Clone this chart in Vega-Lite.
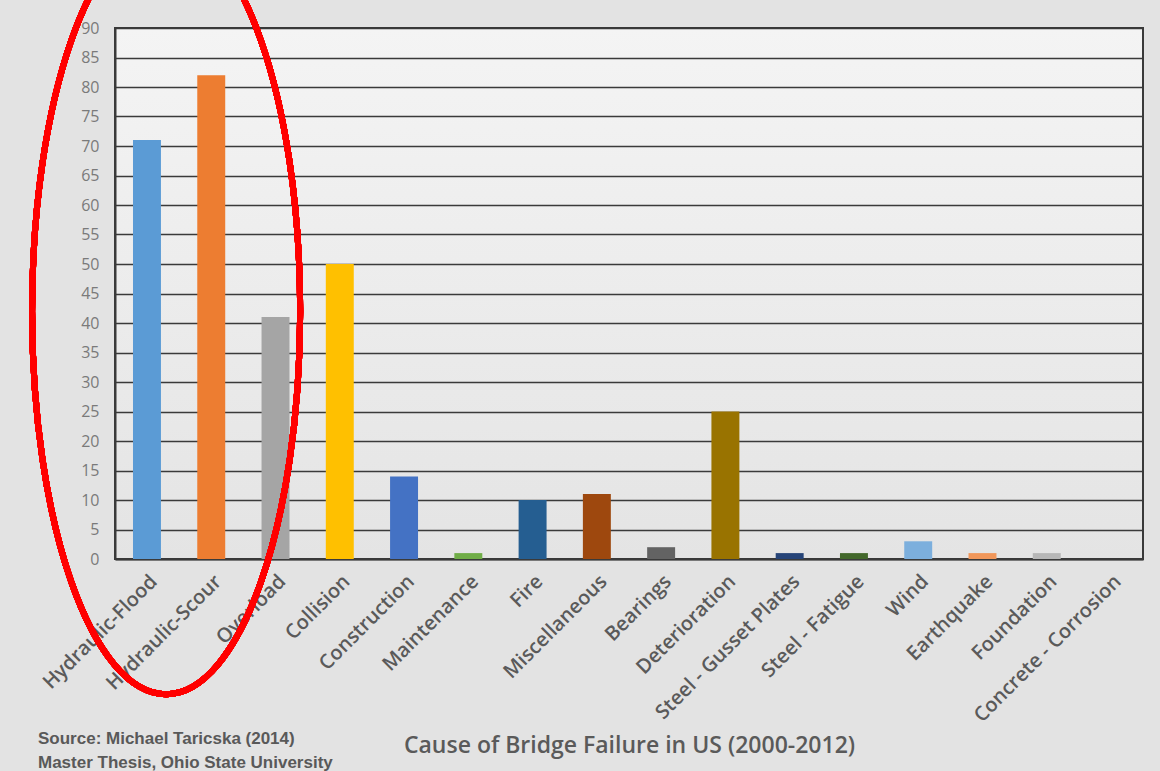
{
  "$schema": "https://vega.github.io/schema/vega-lite/v6.json",
  "autosize": {"type": "none"},
  "width": 1028,
  "height": 531,
  "padding": {"left": 115, "top": 28, "right": 17, "bottom": 212},
  "background": "#e3e3e3",
  "config": {
    "view": {
      "stroke": "#3a3a3a",
      "strokeWidth": 2,
      "fill": {"gradient": "linear", "x1": 0, "y1": 0, "x2": 0, "y2": 1, "stops": [{"offset": 0, "color": "#f4f4f4"}, {"offset": 1, "color": "#e4e4e4"}]}
    },
    "axisY": {
      "title": "Occurrences",
      "titleFont": "Open Sans",
      "titleFontSize": 17,
      "titleFontWeight": "bold",
      "titleColor": "#595959",
      "titlePadding": 14,
      "labelFont": "Open Sans",
      "labelFontSize": 16,
      "labelColor": "#7a7a7a",
      "labelPadding": 16,
      "labelOverlap": false,
      "ticks": false,
      "domainColor": "#3a3a3a",
      "domainWidth": 2,
      "gridColor": "#3a3a3a",
      "gridWidth": 1.6
    }
  },
  "title": {
    "text": ["Source: Michael Taricska (2014)", "Master Thesis, Ohio State University"],
    "orient": "bottom",
    "anchor": "start",
    "frame": "group",
    "dx": -77,
    "offset": -27,
    "font": "Liberation Sans",
    "fontSize": 17,
    "fontWeight": "bold",
    "color": "#595959",
    "lineHeight": 24
  },
  "data": {
    "values": [
      {"cause": "Hydraulic-Flood", "occurrences": 71},
      {"cause": "Hydraulic-Scour", "occurrences": 82},
      {"cause": "Overload", "occurrences": 41},
      {"cause": "Collision", "occurrences": 50},
      {"cause": "Construction", "occurrences": 14},
      {"cause": "Maintenance", "occurrences": 1},
      {"cause": "Fire", "occurrences": 10},
      {"cause": "Miscellaneous", "occurrences": 11},
      {"cause": "Bearings", "occurrences": 2},
      {"cause": "Deterioration", "occurrences": 25},
      {"cause": "Steel - Gusset Plates", "occurrences": 1},
      {"cause": "Steel - Fatigue", "occurrences": 1},
      {"cause": "Wind", "occurrences": 3},
      {"cause": "Earthquake", "occurrences": 1},
      {"cause": "Foundation", "occurrences": 1},
      {"cause": "Concrete - Corrosion", "occurrences": 0}
    ]
  },
  "layer": [
    {
      "mark": {"type": "bar"},
      "encoding": {
        "x": {
          "field": "cause",
          "type": "nominal",
          "sort": null,
          "scale": {"paddingInner": 0.565, "paddingOuter": 0.28},
          "axis": {
            "title": "Cause of Bridge Failure in US (2000-2012)",
            "titleFont": "Open Sans",
            "titleFontSize": 23,
            "titleFontWeight": 600,
            "titleColor": "#5a5a5a",
            "titlePadding": 9,
            "labelAngle": -45,
            "labelFont": "Open Sans",
            "labelFontSize": 20,
            "labelFontWeight": 600,
            "labelColor": "#5a5a5a",
            "labelPadding": 12,
            "labelLimit": 400,
            "labelOverlap": false,
            "ticks": false,
            "domainColor": "#3a3a3a",
            "domainWidth": 2
          }
        },
        "y": {
          "field": "occurrences",
          "type": "quantitative",
          "scale": {"domain": [0, 90], "nice": false},
          "axis": {
            "values": [0, 5, 10, 15, 20, 25, 30, 35, 40, 45, 50, 55, 60, 65, 70, 75, 80, 85, 90]
          }
        },
        "color": {
          "field": "cause",
          "type": "nominal",
          "sort": null,
          "legend": null,
          "scale": {
            "domain": ["Hydraulic-Flood", "Hydraulic-Scour", "Overload", "Collision", "Construction", "Maintenance", "Fire", "Miscellaneous", "Bearings", "Deterioration", "Steel - Gusset Plates", "Steel - Fatigue", "Wind", "Earthquake", "Foundation", "Concrete - Corrosion"],
            "range": ["#5B9BD5", "#ED7D31", "#A5A5A5", "#FFC000", "#4472C4", "#70AD47", "#255E91", "#9E480E", "#636363", "#997300", "#264478", "#43682B", "#7CAFDD", "#F1975A", "#B7B7B7", "#FFCD33"]
          }
        }
      }
    },
    {
      "mark": {
        "type": "point",
        "shape": "M 0.05 -1 C 0.2433 -1 0.4 -0.5523 0.4 0 C 0.4 0.5523 0.2433 1 0.05 1 C -0.1433 1 -0.3 0.5523 -0.3 0 C -0.3 -0.5523 -0.1433 -1 0.05 -1 Z",
        "size": 586756,
        "filled": false,
        "stroke": "#ff0000",
        "strokeWidth": 6,
        "opacity": 1
      },
      "encoding": {
        "x": {"datum": "Hydraulic-Flood"},
        "y": {"datum": 42, "axis": {"values": [0, 5, 10, 15, 20, 25, 30, 35, 40, 45, 50, 55, 60, 65, 70, 75, 80, 85, 90]}}
      }
    }
  ]
}
